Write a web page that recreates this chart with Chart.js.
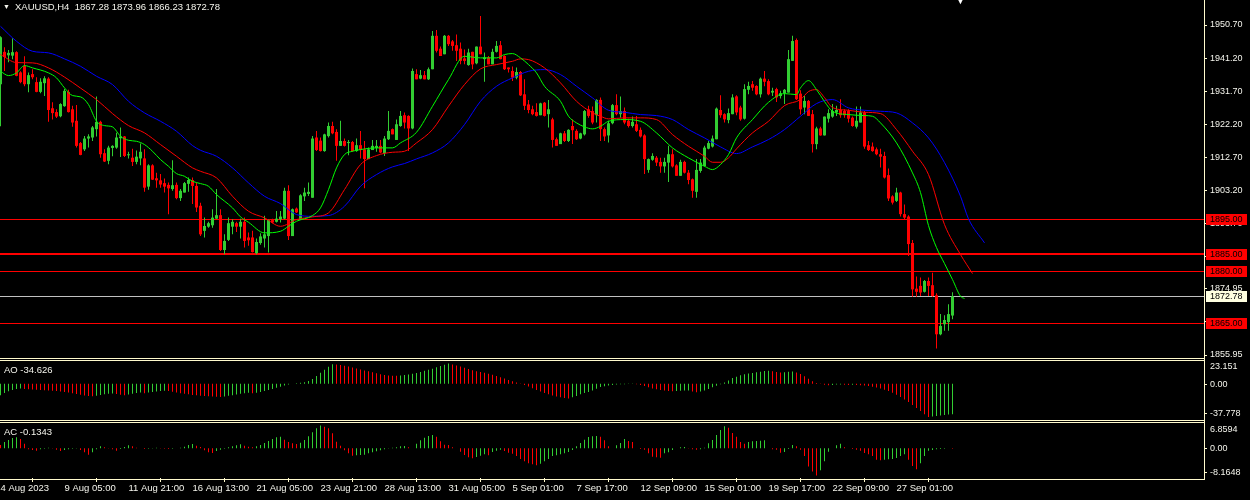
<!DOCTYPE html>
<html><head><meta charset="utf-8">
<script src="https://cdn.jsdelivr.net/npm/chart.js"></script>
<style>
html,body{margin:0;padding:0;background:#000;overflow:hidden;}
#wrap{position:relative;width:1250px;height:500px;background:#000;font-family:"Liberation Sans",Arial,sans-serif;}
.pane{position:absolute;left:0;}
.hl{position:absolute;left:0;width:1205px;height:1px;background:#FFFACD;}
.vl{position:absolute;left:1204px;top:0;width:1px;height:480px;background:#FFFACD;}
.lbl{position:absolute;color:#F4F4EC;font-size:9.5px;white-space:pre;line-height:12px;}
</style></head><body>
<div id="wrap">
  <div class="pane" style="top:0"><canvas id="cMain" width="1250" height="366"></canvas></div>
  <div class="pane" style="top:356px"><canvas id="cAO" width="1250" height="68"></canvas></div>
  <div class="pane" style="top:418px"><canvas id="cAC" width="1250" height="82"></canvas></div>
  <div class="vl"></div>
  <div class="hl" style="top:358px"></div>
  <div class="hl" style="top:360px"></div>
  <div class="hl" style="top:420px"></div>
  <div class="hl" style="top:422px"></div>
  <div class="hl" style="top:479px"></div>
  <div class="lbl" style="left:3px;top:1px;font-size:7px">▼</div>
  <div class="lbl" id="hdr" style="left:15px;top:1px"></div>
  <div class="lbl" style="left:955px;top:-6px;font-size:11px;color:#fff">▼</div>
  <div class="lbl" id="aoLbl" style="left:4px;top:364px"></div>
  <div class="lbl" id="acLbl" style="left:4px;top:426px"></div>
</div>
<script>
// ---------- DATA ----------
const SYMBOL = "XAUUSD";
const TIMEFRAME = "H4";

const OPEN = [1933.7,1943.0,1942.0,1941.9,1942.9,1937.1,1938.9,1933.7,1936.6,1934.3,
1931.5,1934.0,1935.3,1926.8,1925.7,1924.5,1927.4,1931.5,1926.5,1923.2,
1916.8,1915.0,1918.1,1918.4,1920.8,1922.9,1913.9,1911.7,1915.4,1915.5,
1918.2,1918.7,1913.3,1912.6,1911.4,1912.4,1912.4,1904.3,1910.4,1906.7,
1906.1,1905.3,1904.8,1903.6,1904.8,1901.0,1902.6,1905.1,1906.2,1904.5,
1898.8,1891.6,1892.8,1893.2,1895.1,1896.1,1886.1,1889.0,1892.8,1893.8,
1892.8,1894.2,1889.7,1889.7,1885.2,1888.1,1889.4,1890.1,1894.7,1894.2,
1894.9,1895.1,1903.1,1890.1,1898.0,1894.7,1901.5,1902.2,1901.1,1918.4,
1917.5,1914.5,1918.8,1921.7,1920.0,1916.0,1917.4,1916.8,1917.1,1914.5,
1916.2,1915.0,1912.2,1914.8,1915.4,1916.0,1913.9,1917.9,1920.8,1917.7,
1921.7,1924.8,1924.6,1921.0,1936.6,1935.3,1936.3,1935.1,1938.0,1947.6,
1943.9,1942.3,1947.6,1946.0,1944.9,1943.9,1941.1,1939.2,1943.0,1939.7,
1944.5,1940.9,1941.4,1939.4,1943.0,1944.9,1941.8,1938.5,1937.5,1935.6,
1937.2,1930.8,1927.9,1926.5,1925.7,1924.8,1928.4,1925.1,1923.6,1917.9,
1916.5,1919.6,1917.4,1921.7,1920.3,1918.1,1919.3,1926.5,1926.0,1924.8,
1929.2,1920.8,1919.0,1922.5,1927.7,1925.1,1926.0,1923.2,1921.7,1922.2,
1920.6,1919.0,1909.1,1912.0,1912.6,1911.4,1910.1,1911.2,1913.6,1910.4,
1907.4,1911.4,1908.3,1906.4,1902.8,1908.8,1910.2,1915.2,1915.8,1917.9,
1926.3,1925.1,1923.4,1925.1,1930.2,1927.0,1923.8,1932.1,1933.7,1933.2,
1930.8,1935.3,1934.6,1931.3,1932.3,1930.3,1931.1,1931.3,1940.4,1946.4,
1931.0,1927.0,1928.9,1925.1,1916.5,1921.0,1919.0,1923.8,1924.4,1925.6,
1926.3,1926.0,1926.0,1924.1,1921.5,1922.7,1925.6,1916.2,1915.8,1915.0,
1913.6,1913.1,1907.6,1901.5,1900.2,1902.6,1896.4,1895.7,1888.1,1875.0,
1875.8,1874.1,1877.2,1876.0,1873.1,1861.9,1864.8,1865.4,1867.28];

const HIGH = [1947.5,1944.3,1943.5,1946.9,1943.2,1937.4,1941.7,1937.1,1938.0,1935.7,
1935.4,1936.0,1935.7,1928.5,1926.5,1928.2,1932.3,1932.1,1927.5,1927.7,
1917.1,1918.8,1919.3,1921.7,1930.2,1923.2,1915.0,1916.0,1916.2,1919.8,
1921.3,1918.8,1914.3,1915.2,1914.7,1916.7,1915.0,1910.7,1910.7,1908.3,
1907.9,1906.6,1905.5,1911.9,1905.5,1903.6,1905.6,1906.9,1906.9,1905.5,
1899.7,1895.4,1894.2,1897.8,1903.6,1897.8,1890.6,1895.4,1894.9,1894.2,
1895.1,1895.4,1891.1,1891.6,1889.4,1890.9,1895.9,1894.9,1895.1,1897.3,
1897.3,1904.0,1904.7,1898.0,1898.3,1902.1,1904.0,1905.5,1918.8,1920.3,
1918.4,1919.5,1922.7,1922.9,1920.8,1923.2,1918.1,1917.7,1917.4,1918.1,
1920.3,1917.4,1915.5,1917.7,1917.7,1917.7,1918.8,1926.0,1921.0,1923.6,
1926.0,1925.6,1924.8,1938.2,1938.0,1937.8,1937.5,1938.5,1949.0,1949.3,
1944.5,1947.8,1947.8,1946.4,1948.0,1945.7,1943.7,1943.9,1943.0,1944.5,
1953.3,1942.8,1941.8,1943.9,1946.1,1946.1,1942.0,1938.5,1938.8,1938.5,
1937.5,1935.1,1929.2,1927.5,1928.2,1928.4,1928.6,1929.2,1924.1,1918.4,
1919.8,1920.3,1920.8,1923.6,1920.8,1919.8,1926.3,1927.5,1927.3,1929.4,
1929.9,1921.3,1923.2,1928.0,1930.8,1930.2,1927.0,1923.8,1924.4,1924.6,
1921.3,1919.3,1912.4,1913.9,1913.1,1912.6,1912.6,1916.0,1915.0,1910.7,
1912.0,1911.7,1909.1,1906.6,1912.2,1912.2,1916.0,1917.4,1919.0,1927.0,
1930.5,1925.4,1926.7,1930.8,1930.5,1927.5,1933.7,1934.4,1934.6,1933.4,
1935.6,1937.5,1935.1,1932.7,1932.7,1931.8,1932.3,1943.5,1947.6,1946.8,
1932.0,1930.3,1929.2,1926.3,1921.5,1921.5,1924.4,1926.5,1928.0,1927.5,
1929.4,1926.5,1926.5,1924.4,1927.3,1927.3,1926.0,1917.4,1917.0,1915.5,
1915.2,1914.3,1909.5,1901.8,1904.0,1902.8,1899.2,1896.1,1889.0,1878.5,
1878.2,1877.5,1878.2,1879.6,1873.7,1867.7,1867.4,1870.5,1873.96];

const LOW = [1921.6,1937.5,1940.0,1940.9,1936.0,1934.0,1933.1,1931.4,1935.1,1931.4,
1931.1,1930.3,1922.9,1923.6,1924.0,1924.2,1927.2,1925.6,1921.5,1915.5,
1913.3,1914.5,1915.5,1917.4,1918.7,1912.6,1911.4,1910.7,1913.0,1915.2,
1912.8,1912.8,1912.4,1910.2,1910.7,1910.4,1902.8,1903.4,1906.2,1904.0,
1904.0,1902.6,1896.4,1903.1,1900.7,1900.2,1902.6,1902.8,1899.3,1897.0,
1890.1,1889.7,1892.5,1892.5,1895.1,1885.8,1884.9,1888.7,1890.6,1891.3,
1889.4,1886.8,1887.3,1885.4,1884.9,1887.6,1886.8,1885.4,1893.8,1894.0,
1894.0,1894.9,1889.0,1890.1,1896.7,1894.7,1900.2,1901.6,1901.1,1914.5,
1914.4,1914.3,1918.4,1919.3,1911.7,1916.0,1915.8,1913.3,1914.3,1914.3,
1912.4,1903.8,1912.2,1914.8,1914.3,1913.9,1913.1,1917.7,1919.3,1917.7,
1921.5,1921.0,1914.5,1920.8,1935.1,1935.1,1935.1,1934.9,1938.0,1942.8,
1941.8,1942.3,1944.7,1943.3,1940.4,1939.4,1939.4,1939.0,1938.0,1939.4,
1942.3,1934.4,1939.4,1939.4,1942.8,1940.9,1937.8,1937.1,1934.6,1935.1,
1930.3,1926.3,1925.4,1924.8,1924.4,1924.8,1924.4,1921.3,1915.5,1916.0,
1916.5,1917.1,1917.1,1916.5,1917.7,1917.9,1919.0,1924.1,1922.2,1922.7,
1917.4,1917.4,1917.0,1922.2,1924.8,1924.1,1922.2,1921.3,1921.3,1920.0,
1918.4,1907.9,1908.3,1911.7,1910.2,1908.3,1908.3,1905.6,1909.8,1907.4,
1907.4,1908.1,1905.0,1901.1,1901.1,1908.3,1910.1,1915.0,1915.5,1917.9,
1924.1,1922.7,1922.5,1925.1,1924.8,1923.2,1923.6,1930.8,1931.8,1930.5,
1929.9,1933.1,1930.5,1930.3,1928.6,1929.6,1928.0,1931.3,1940.4,1929.2,
1925.0,1925.1,1924.6,1914.1,1915.0,1918.9,1919.0,1922.7,1924.1,1924.6,
1924.1,1924.1,1922.7,1921.5,1921.0,1922.7,1915.2,1914.5,1914.3,1913.3,
1909.8,1906.6,1900.2,1899.2,1899.9,1895.7,1894.9,1884.4,1872.7,1872.7,
1872.9,1873.9,1872.9,1872.7,1857.8,1861.6,1862.9,1862.9,1866.23];

const CLOSE = [1947.2,1941.5,1942.7,1942.9,1936.1,1934.3,1933.7,1936.3,1935.7,1931.5,
1934.4,1935.4,1926.3,1925.4,1924.4,1928.0,1931.8,1925.7,1922.7,1916.0,
1913.4,1918.1,1918.7,1921.3,1922.9,1913.6,1911.5,1915.5,1916.0,1918.4,
1918.7,1913.1,1913.6,1911.4,1912.9,1914.3,1904.0,1910.4,1906.3,1906.1,
1904.9,1904.3,1903.8,1904.7,1901.0,1903.1,1905.3,1906.2,1904.5,1898.3,
1890.6,1893.0,1893.8,1895.4,1896.1,1886.1,1888.7,1893.8,1894.2,1892.8,
1894.2,1888.7,1888.9,1885.5,1888.4,1890.0,1890.6,1894.7,1894.0,1895.1,
1895.7,1903.1,1890.1,1897.8,1896.9,1901.8,1902.6,1902.8,1918.1,1914.8,
1914.5,1919.3,1921.7,1919.6,1916.0,1917.4,1916.0,1917.1,1914.5,1916.2,
1914.8,1912.2,1915.0,1916.0,1916.0,1914.1,1918.1,1920.3,1919.3,1922.2,
1924.6,1922.7,1921.0,1937.5,1935.1,1936.3,1935.1,1938.0,1947.6,1943.3,
1941.8,1947.6,1945.2,1944.7,1943.3,1940.4,1940.4,1942.8,1939.4,1944.5,
1942.3,1941.4,1939.4,1943.0,1944.7,1940.9,1938.0,1938.0,1935.6,1937.2,
1930.5,1927.5,1926.3,1925.1,1924.6,1928.2,1924.6,1926.5,1917.7,1916.0,
1919.6,1917.4,1920.6,1920.5,1917.9,1919.6,1926.0,1924.6,1922.7,1929.2,
1920.8,1918.7,1922.5,1927.7,1925.1,1926.0,1922.7,1921.7,1922.9,1920.3,
1918.7,1912.2,1912.2,1913.1,1911.2,1910.1,1911.4,1913.6,1910.1,1907.4,
1911.4,1908.3,1906.2,1903.1,1909.1,1911.2,1915.5,1916.8,1918.1,1926.7,
1924.8,1923.6,1925.4,1929.9,1925.6,1923.6,1932.3,1933.2,1932.7,1930.8,
1935.3,1934.4,1930.8,1931.8,1929.9,1931.1,1932.1,1940.9,1946.1,1929.4,
1926.5,1928.9,1924.6,1916.5,1921.0,1919.0,1924.4,1925.4,1926.0,1926.3,
1924.8,1924.8,1923.8,1921.7,1923.2,1925.6,1915.8,1914.8,1914.5,1913.6,
1912.9,1906.9,1900.9,1899.7,1902.6,1896.4,1895.4,1887.8,1874.8,1874.1,
1873.9,1877.2,1875.8,1872.9,1861.9,1864.3,1866.0,1867.7,1872.78];

// Alligator lines (bar index, price)
const JAW_I = [0,4,8,12,16,20,24,28,32,36,40,44,48,50,54,58,62,66,70,74,78,82,86,90,94,98,101,104,108,112,116,120,124,128,132,136,140,144,148,152,156,160,164,168,172,176,180,184,188,192,196,200,204,208,212,216,220,224,228,232,236,240,242,246];
const JAW = [1950.33,1946.03,1943.16,1942.70,1940.98,1938.85,1935.98,1933.60,1928.80,1925.47,1923.06,1920.19,1916.08,1914.73,1913.01,1909.68,1905.37,1901.53,1899.43,1896.27,1895.78,1895.99,1898.66,1904.40,1907.76,1909.97,1910.92,1912.26,1913.99,1916.86,1922.11,1928.80,1933.11,1935.52,1937.41,1937.90,1936.47,1933.11,1929.78,1926.22,1925.64,1924.98,1924.70,1923.55,1920.68,1918.29,1915.71,1913.79,1915.71,1917.81,1920.68,1924.50,1928.14,1929.29,1926.91,1926.22,1925.93,1925.47,1922.60,1918.29,1911.20,1901.53,1895.04,1888.15];
const TEETH_I = [0,4,8,12,16,20,24,28,32,36,40,44,48,50,54,58,62,66,70,74,78,82,86,90,94,98,101,104,108,112,116,120,124,128,130,132,136,140,144,148,150,152,156,160,164,168,172,176,178,180,182,184,188,192,196,200,202,204,206,208,212,216,220,224,228,232,236,240,243];
const TEETH = [1942.21,1939.91,1939.83,1938.39,1935.75,1932.59,1929.29,1925.27,1921.82,1919.73,1916.37,1913.01,1909.68,1908.70,1906.81,1901.53,1897.22,1895.33,1892.91,1894.84,1895.61,1896.76,1903.45,1910.63,1913.21,1914.16,1914.45,1916.86,1920.68,1927.37,1933.60,1938.10,1939.34,1940.29,1940.97,1940.77,1938.39,1934.08,1928.80,1925.47,1924.50,1923.75,1924.04,1924.04,1923.55,1919.24,1915.88,1913.01,1911.29,1911.29,1912.55,1915.14,1919.73,1923.06,1927.57,1929.29,1931.59,1932.16,1929.86,1926.99,1926.22,1925.64,1925.27,1920.68,1914.45,1907.76,1893.40,1884.79,1879.33];
const LIPS_I = [0,2,4,6,8,12,14,16,18,20,22,24,26,28,30,32,34,36,38,40,42,44,46,48,50,52,54,58,60,62,66,70,72,74,78,80,82,84,86,88,90,94,98,100,104,108,112,116,120,124,126,128,130,132,134,136,140,142,144,146,148,150,152,156,160,164,168,172,176,178,180,182,184,188,192,196,199,200,202,204,206,208,212,216,218,220,224,228,230,232,234,236,238,240,241];
const LIPS = [1937.41,1936.18,1936.96,1939.05,1938.39,1936.96,1935.52,1932.65,1930.44,1930.07,1927.85,1923.06,1921.82,1921.45,1918.75,1917.60,1917.32,1916.37,1914.45,1912.06,1910.14,1908.04,1907.27,1905.83,1905.17,1904.40,1902.02,1898.20,1895.61,1894.06,1891.02,1891.48,1892.91,1894.35,1895.99,1898.20,1903.45,1909.68,1913.50,1914.45,1914.94,1915.42,1915.42,1916.86,1919.90,1927.37,1935.03,1941.72,1941.26,1941.26,1942.21,1942.50,1941.26,1939.34,1936.96,1933.11,1928.80,1924.50,1922.60,1921.45,1920.88,1921.62,1923.06,1923.55,1923.06,1919.73,1915.42,1912.55,1910.14,1909.19,1910.63,1913.50,1918.29,1923.55,1928.51,1931.01,1930.72,1932.65,1934.74,1932.16,1928.72,1925.93,1924.98,1924.70,1924.50,1922.60,1916.86,1908.24,1902.59,1893.11,1886.80,1882.21,1877.61,1872.82,1872.16];

// Awesome Oscillator histogram
const AO_PRIOR = -14.5;
const AO = [-13.0,-10.5,-8.5,-7.0,-6.0,-5.4,
-5.8,-6.2,-6.5,-6.8,-7.1,-7.4,-7.7,-8.0,-8.3,-8.7,-9.2,-9.8,-10.6,-11.5,-12.4,
-13.2,-13.8,-14.2,
-13.6,-12.8,-12.0,-11.4,-10.9,
-11.5,-12.3,-12.9,
-12.2,-11.3,-10.5,-9.9,
-10.6,
-10.0,-9.3,-8.7,-8.2,-7.8,
-8.3,-9.0,-9.8,-10.6,-11.3,-12.0,-12.6,-13.1,-13.5,-13.9,-14.2,-14.5,-14.7,-14.9,
-14.4,-13.7,-12.9,-12.1,-11.4,-10.8,-10.3,
-10.8,
-10.1,-9.2,-8.2,-7.1,-5.9,-4.6,-3.2,-1.9,-0.8,
0.2,0.6,1.1,1.8,
3.2,5.6,8.8,12.5,16.0,19.5,22.4,
22.0,21.4,20.6,19.7,18.6,17.5,16.4,15.3,14.2,13.1,12.0,11.0,10.1,9.6,9.3,9.1,
9.6,10.1,10.6,11.4,12.3,13.5,14.8,16.0,17.3,18.9,20.3,21.7,23.151,
22.0,21.0,19.8,18.3,16.8,15.4,14.3,13.5,12.6,11.5,10.2,8.9,7.5,6.0,4.5,3.0,1.5,
0.3,-1.2,-3.0,-5.0,-7.0,-8.8,-10.5,-12.0,-13.3,-14.5,-15.4,-16.2,-16.8,
-15.4,-13.8,-12.0,-10.4,-9.2,-7.5,-5.5,-3.5,-2.7,-1.9,-1.2,-0.9,-0.6,-0.4,-0.3,-0.2,
-0.5,-1.3,-2.5,-3.9,-5.2,-6.2,-7.0,-7.7,-8.2,-8.5,
-8.2,-7.9,-7.7,-7.6,
-8.6,-9.5,
-8.8,-7.7,-6.0,-4.0,-2.3,-0.4,1.5,3.8,6.5,8.2,9.8,11.0,11.8,12.4,13.1,13.8,14.6,15.0,
14.2,13.6,12.9,
13.3,13.8,14.1,
13.0,11.2,8.6,5.8,3.0,1.0,
-0.3,-1.0,-1.6,-1.2,-0.9,-0.8,-1.0,-1.2,-1.1,-1.3,-1.6,
-2.0,-2.6,-3.3,-4.2,-5.3,-6.7,-8.3,-10.2,-12.5,-15.0,-17.8,-20.8,-24.0,-27.4,-31.0,-34.6,-37.778,
-37.2,-36.6,-36.0,-35.4,-35.0,-34.626];

// Accelerator Oscillator histogram
const AC_PRIOR = 1.5;
const AC = [1.0,1.9,2.5,3.1,3.3,2.8,1.4,-0.3,-0.5,-0.7,
-0.3,-0.1,0.2,0.1,-0.4,-0.8,-0.5,-0.3,-0.1,0.1,
-0.5,-1.2,-1.9,-1.2,-0.3,0.6,0.3,0.1,-0.3,-0.7,
-0.2,0.4,0.9,0.6,0.2,0.0,-0.2,-0.1,0.1,0.2,
0.1,-0.1,-0.2,-0.1,0.0,0.2,0.5,1.0,1.3,0.8,
0.4,-0.6,-1.2,-1.4,-0.8,-0.4,-0.1,0.3,0.6,0.9,
1.2,0.8,0.5,0.3,0.6,1.0,1.6,2.2,2.8,3.3,
3.5,2.6,1.9,1.5,1.3,1.7,2.5,3.6,4.8,6.0,
6.8594,6.5,6.0,4.5,2.0,0.8,-0.6,-1.5,-2.2,-2.1,
-2.0,-1.9,-1.5,-1.2,-0.9,-0.6,-0.3,0.1,0.2,0.3,
0.6,0.7,0.3,0.0,1.4,2.4,3.2,3.7,4.0,3.5,
2.1,1.1,1.0,0.3,0.0,-1.0,-2.0,-2.7,-3.0,-2.6,
-2.2,-1.8,-2.1,-1.1,-0.7,-0.4,-0.8,-1.3,-1.6,-2.3,
-3.2,-3.9,-4.5,-4.8,-5.1,-4.6,-3.9,-3.2,-2.3,-2.1,
-1.8,-1.5,-1.1,-0.5,0.6,1.6,2.6,3.4,3.6,3.7,
3.5,2.4,0.6,0.0,0.9,1.6,2.8,2.2,1.9,0.0,
-0.2,-0.4,-1.5,-2.5,-2.7,-2.8,-1.5,-1.2,-0.5,0.0,
0.3,0.4,0.1,-0.3,-0.4,-0.3,0.2,1.5,2.5,4.0,
5.5,6.6,6.2,4.6,3.5,1.9,1.4,1.9,2.1,2.2,
2.3,2.4,0.0,-0.3,-0.4,-1.3,-1.1,-0.2,1.0,0.6,
-0.4,-2.3,-5.5,-7.0,-8.1648,-6.6,-3.9,-1.0,0.0,0.9,
1.4,0.3,0.0,-0.2,-0.4,-0.7,-1.4,-1.8,-2.3,-3.4,
-3.6,-3.4,-3.3,-3.2,-2.9,-2.3,-1.8,-3.4,-5.3,-6.3,
-4.5,-2.3,-0.7,-0.5,-0.3,-0.2,-0.1,0.0,-0.1343];

// Axis ticks / labels
const PRICE_TICKS = [1950.70,1941.20,1931.70,1922.20,1912.70,1903.20,1893.70,1884.20,1874.95,1865.45,1855.95];
const LEVELS = [1895.00,1885.00,1880.00,1865.00];
const AO_TICKS = [23.151, 0, -37.778];
const AO_TICK_LABELS = ["23.151","0.00","-37.778"];
const AC_TICKS = [6.8594, 0, -8.1648];
const AC_TICK_LABELS = ["6.8594","0.00","-8.1648"];
const TIME_TICKS = [0,16,32,48,64,80,96,112,128,144,160,176,192,208,224];
const TIME_LABELS = ["4 Aug 2023","9 Aug 05:00","11 Aug 21:00","16 Aug 13:00","21 Aug 05:00","23 Aug 21:00","28 Aug 13:00","31 Aug 05:00","5 Sep 01:00","7 Sep 17:00","12 Sep 09:00","15 Sep 01:00","19 Sep 17:00","22 Sep 09:00","27 Sep 01:00"];

// ---------- STYLE / LAYOUT ----------
const FONT = '"Liberation Sans", Arial, sans-serif';
const TXT = '#F4F4EC';
const FRAME = '#FFFACD';
const BULL = '#32CD32';
const BEAR = '#FF0000';
const LEVEL_COLOR = '#FF0000';
const THICK_LEVEL = 1885.00;
const PRICE_LINE = '#C0C0C0';
const AXIS_W = 46;
const X_MIN = -0.125, X_MAX = 300.875;

const N = OPEN.length;
const LAST = N - 1;
document.getElementById('hdr').textContent =
  SYMBOL + ',' + TIMEFRAME + '  ' + [OPEN[LAST], HIGH[LAST], LOW[LAST], CLOSE[LAST]].map(v => v.toFixed(2)).join(' ');
document.getElementById('aoLbl').textContent = 'AO ' + AO[AO.length - 1].toFixed(3);
document.getElementById('acLbl').textContent = 'AC ' + AC[AC.length - 1].toFixed(4);

const idx = OPEN.map((_, i) => i);
const candleCol = idx.map(i => CLOSE[i] >= OPEN[i] ? BULL : BEAR);
const wickData = idx.map(i => ({x: i, y: [Math.min(LOW[i], OPEN[i], CLOSE[i]), Math.max(HIGH[i], OPEN[i], CLOSE[i])]}));
const bodyData = idx.map(i => ({x: i, y: [OPEN[i], CLOSE[i]]}));
const histCol = (arr, prior) => arr.map((v, i) => v > (i ? arr[i - 1] : prior) ? BULL : BEAR);
const pairs = (xs, ys) => xs.map((x, k) => ({x, y: ys[k]}));

function rightAxis(min, max, values, labels, size, hideFirstTick) {
  return {
    type: 'linear', position: 'right', min, max, bounds: 'data',
    afterBuildTicks: s => { s.ticks = values.map(v => ({value: v})); },
    afterFit: s => { s.width = AXIS_W; s.paddingTop = 0; s.paddingBottom = 0; },
    grid: { display: true, drawOnChartArea: false, drawTicks: true, tickLength: 3, color: FRAME,
            tickColor: c => (hideFirstTick && c.index === 0) ? 'rgba(0,0,0,0)' : FRAME },
    border: { display: false },
    ticks: { padding: 3, color: TXT, font: {family: FONT, size}, autoSkip: false,
             callback: (v, i) => labels[i] }
  };
}
const hiddenX = { type: 'linear', min: X_MIN, max: X_MAX, offset: false, display: false, bounds: 'data' };
const common = (padding) => ({
  responsive: false, animation: false, events: [], devicePixelRatio: 1,
  layout: { padding },
  plugins: { legend: {display: false}, tooltip: {enabled: false} },
  datasets: { bar: { grouped: false, inflateAmount: 0, borderWidth: 0 } }
});

// Level lines and price tags
const levelPlugin = {
  id: 'levels',
  beforeDatasetsDraw(chart) {
    const {ctx, chartArea: a, scales: {y}} = chart;
    ctx.save();
    LEVELS.forEach(v => {
      const py = Math.round(y.getPixelForValue(v));
      ctx.fillStyle = LEVEL_COLOR;
      const h = v === THICK_LEVEL ? 2 : 1;
      ctx.fillRect(a.left, py - (h - 1), a.right - a.left, h);
    });
    const pc = Math.round(y.getPixelForValue(CLOSE[LAST]));
    ctx.fillStyle = PRICE_LINE;
    ctx.fillRect(a.left, pc, a.right - a.left, 1);
    ctx.restore();
  },
  afterDraw(chart) {
    const {ctx, chartArea: a, scales: {y}} = chart;
    ctx.save();
    ctx.font = '9px ' + FONT;
    ctx.textBaseline = 'middle';
    ctx.textAlign = 'left';
    const tag = (v, bg) => {
      const py = Math.round(y.getPixelForValue(v));
      ctx.fillStyle = bg;
      ctx.fillRect(a.right + 2, py - 5, 41, 11);
      ctx.fillStyle = '#000';
      ctx.fillText(v.toFixed(2), a.right + 6, py + 0.5);
    };
    LEVELS.forEach(v => tag(v, LEVEL_COLOR));
    tag(CLOSE[LAST], '#FFFFE0');
    ctx.restore();
  }
};

// ---------- MAIN PRICE CHART ----------
new Chart(document.getElementById('cMain'), {
  type: 'bar',
  data: { datasets: [
    { type: 'line', data: pairs(LIPS_I, LIPS), borderColor: '#00FF00', borderWidth: 1, pointRadius: 0, cubicInterpolationMode: 'monotone', order: 0 },
    { type: 'line', data: pairs(TEETH_I, TEETH), borderColor: '#FF0000', borderWidth: 1, pointRadius: 0, cubicInterpolationMode: 'monotone', order: 1 },
    { type: 'line', data: pairs(JAW_I, JAW), borderColor: '#0000FF', borderWidth: 1, pointRadius: 0, cubicInterpolationMode: 'monotone', order: 2 },
    { type: 'bar', data: bodyData, backgroundColor: candleCol, barThickness: 3, minBarLength: 1, order: 3 },
    { type: 'bar', data: wickData, backgroundColor: candleCol, barThickness: 1, order: 4 }
  ]},
  options: Object.assign(common({top: 0, left: 0, right: 0, bottom: 9}), {
    scales: {
      x: hiddenX,
      y: rightAxis(1855.38, 1957.88, PRICE_TICKS, PRICE_TICKS.map(v => v.toFixed(2)), 9, false)
    }
  }),
  plugins: [levelPlugin]
});

// ---------- AO ----------
new Chart(document.getElementById('cAO'), {
  type: 'bar',
  data: { datasets: [
    { data: AO.map((v, i) => ({x: i, y: v})), backgroundColor: histCol(AO, AO_PRIOR), barThickness: 1, yAxisID: 'y' }
  ]},
  options: Object.assign(common({top: 5, left: 0, right: 0, bottom: 5}), {
    scales: {
      x: hiddenX,
      y: { type: 'linear', min: -40.06, max: 26.0, display: false, bounds: 'data' },
      yLab: rightAxis(-45.28, 31.05, AO_TICKS, AO_TICK_LABELS, 9, true)
    }
  })
});

// ---------- AC ----------
new Chart(document.getElementById('cAC'), {
  type: 'bar',
  data: { datasets: [
    { data: AC.map((v, i) => ({x: i, y: v})), backgroundColor: histCol(AC, AC_PRIOR), barThickness: 1, yAxisID: 'y' }
  ]},
  options: Object.assign(common({top: 5, left: 0, right: 0, bottom: 0}), {
    scales: {
      x: { type: 'linear', min: X_MIN, max: X_MAX, offset: false, position: 'bottom', bounds: 'data',
           afterBuildTicks: s => { s.ticks = TIME_TICKS.map(v => ({value: v})); },
           afterFit: s => { s.height = 22; s.paddingLeft = 0; s.paddingRight = 0; },
           grid: { display: true, drawOnChartArea: false, drawTicks: true, tickLength: 4, color: FRAME },
           border: { display: false },
           ticks: { align: 'start', maxRotation: 0, minRotation: 0, autoSkip: false, padding: 1,
                    color: TXT, font: {family: FONT, size: 9.5}, callback: (v, i) => TIME_LABELS[i] } },
      y: { type: 'linear', min: -8.92, max: 7.61, display: false, bounds: 'data' },
      yLab: rightAxis(-10.16, 9.06, AC_TICKS, AC_TICK_LABELS, 9, true)
    }
  })
});
</script>
</body></html>
